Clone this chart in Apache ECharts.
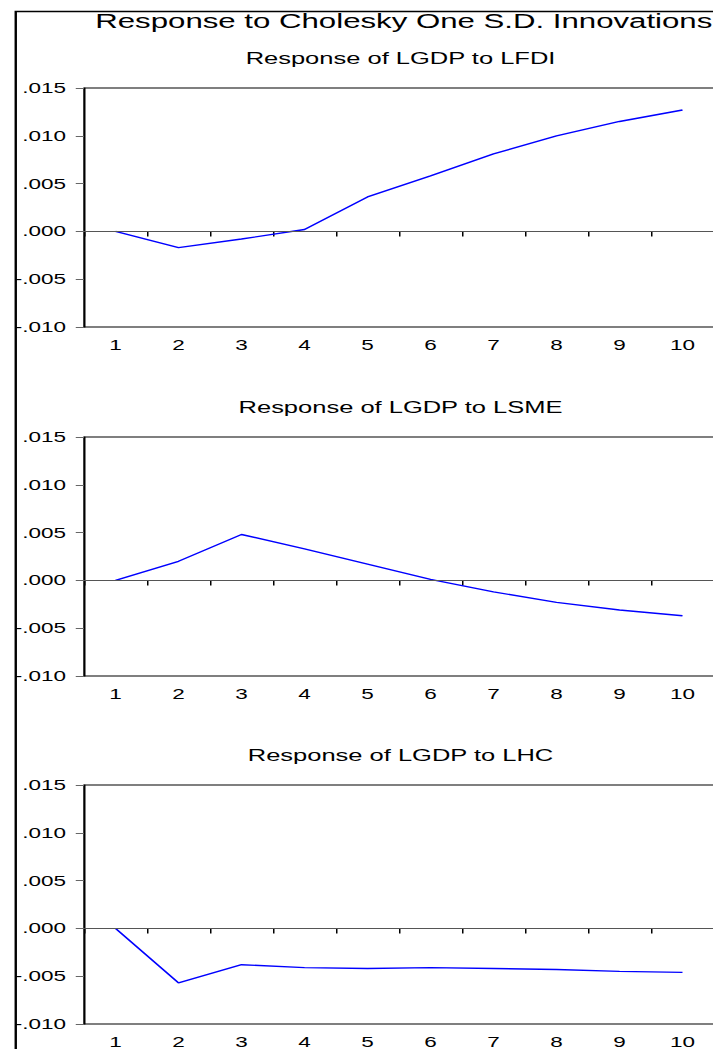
<!DOCTYPE html>
<html><head><meta charset="utf-8">
<script src="https://cdn.jsdelivr.net/npm/echarts@6/dist/echarts.min.js"></script>
<style>
html,body{margin:0;padding:0;background:#fff;overflow:hidden;width:713px;height:1049px}
#c{width:476px;height:1049px;transform:scaleX(1.5);transform-origin:0 0}
</style></head><body><div id="c"></div>
<script>
// ---- data ----
const periods = ['1','2','3','4','5','6','7','8','9','10'];
const respLFDI = [0.0000, -0.0017, -0.0008, 0.0002, 0.0036, 0.0058, 0.0081, 0.0100, 0.0115, 0.0127];
const respLSME = [0.0000, 0.0020, 0.0048, 0.0033, 0.0017, 0.0001, -0.0012, -0.0023, -0.0031, -0.0037];
const respLHC  = [0.0000, -0.0057, -0.0038, -0.0041, -0.0042, -0.0041, -0.0042, -0.0043, -0.0045, -0.0046];
const yMin = -0.010, yMax = 0.015, yStep = 0.005;
const mainTitle = 'Response to Cholesky One S.D. Innovations';
const panelTitles = ['Response of LGDP to LFDI', 'Response of LGDP to LSME', 'Response of LGDP to LHC'];
const panelData = [respLFDI, respLSME, respLHC];

// ---- layout (chart units; the canvas is stretched 1.5x horizontally like the source) ----
const FONT = '"Liberation Sans", Arial, sans-serif';
const gridTops = [88, 437, 785];
const gridH = 239;
const fmt = v => (v < 0 ? '-' : '') + Math.abs(v).toFixed(3).substring(1);

const chart = echarts.init(document.getElementById('c'), null, {renderer: 'svg'});

const titles = [{
  text: mainTitle, left: 58.5, top: 5, textAlign: 'left',
  textStyle: {fontFamily: FONT, fontSize: 20.8, fontWeight: 'normal', color: '#000'}
}];
panelTitles.forEach((t, i) => titles.push({
  text: t, left: 262, top: gridTops[i] - 43, textAlign: 'center',
  textStyle: {fontFamily: FONT, fontSize: 17, fontWeight: 'normal', color: '#000'}
}));

const grids = [], xAxes = [], yAxes = [], series = [];
panelData.forEach((d, i) => {
  grids.push({left: 56, width: 420, top: gridTops[i], height: gridH,
    show: true, borderColor: '#000', borderWidth: 1, backgroundColor: 'transparent'});
  xAxes.push({
    type: 'category', gridIndex: i, data: periods, boundaryGap: true,
    axisLine: {show: true, lineStyle: {color: '#000', width: 1}},
    axisTick: {show: true, inside: false, length: 5, lineStyle: {color: '#000'}},
    axisLabel: {fontFamily: FONT, fontSize: 15, color: '#000', margin: 10, interval: 0},
    splitLine: {show: false}
  });
  yAxes.push({
    type: 'value', gridIndex: i, min: yMin, max: yMax, interval: yStep,
    axisLine: {show: true, lineStyle: {color: '#000', width: 1}},
    axisTick: {show: true, inside: false, length: 5.5, lineStyle: {color: '#666'}},
    axisLabel: {fontFamily: FONT, fontSize: 15, color: '#000', margin: 12, formatter: fmt},
    splitLine: {show: false}
  });
  series.push({
    type: 'line', xAxisIndex: i, yAxisIndex: i, data: d,
    symbol: 'none', silent: true,
    lineStyle: {color: '#0000ff', width: 1.4},
    markLine: {
      silent: true, symbol: 'none', label: {show: false},
      lineStyle: {color: '#555', width: 1, type: 'solid'},
      data: [{yAxis: 0}]
    },
    z: 3
  });
});

chart.setOption({
  animation: false,
  backgroundColor: '#fff',
  title: titles,
  grid: grids,
  xAxis: xAxes,
  yAxis: yAxes,
  series: series,
  graphic: [{
    type: 'rect', left: 8, top: 9, silent: true,
    shape: {x: 0, y: 0, width: 1000, height: 2000},
    style: {fill: 'none', stroke: '#000', lineWidth: 1.6}
  }]
});
</script></body></html>
